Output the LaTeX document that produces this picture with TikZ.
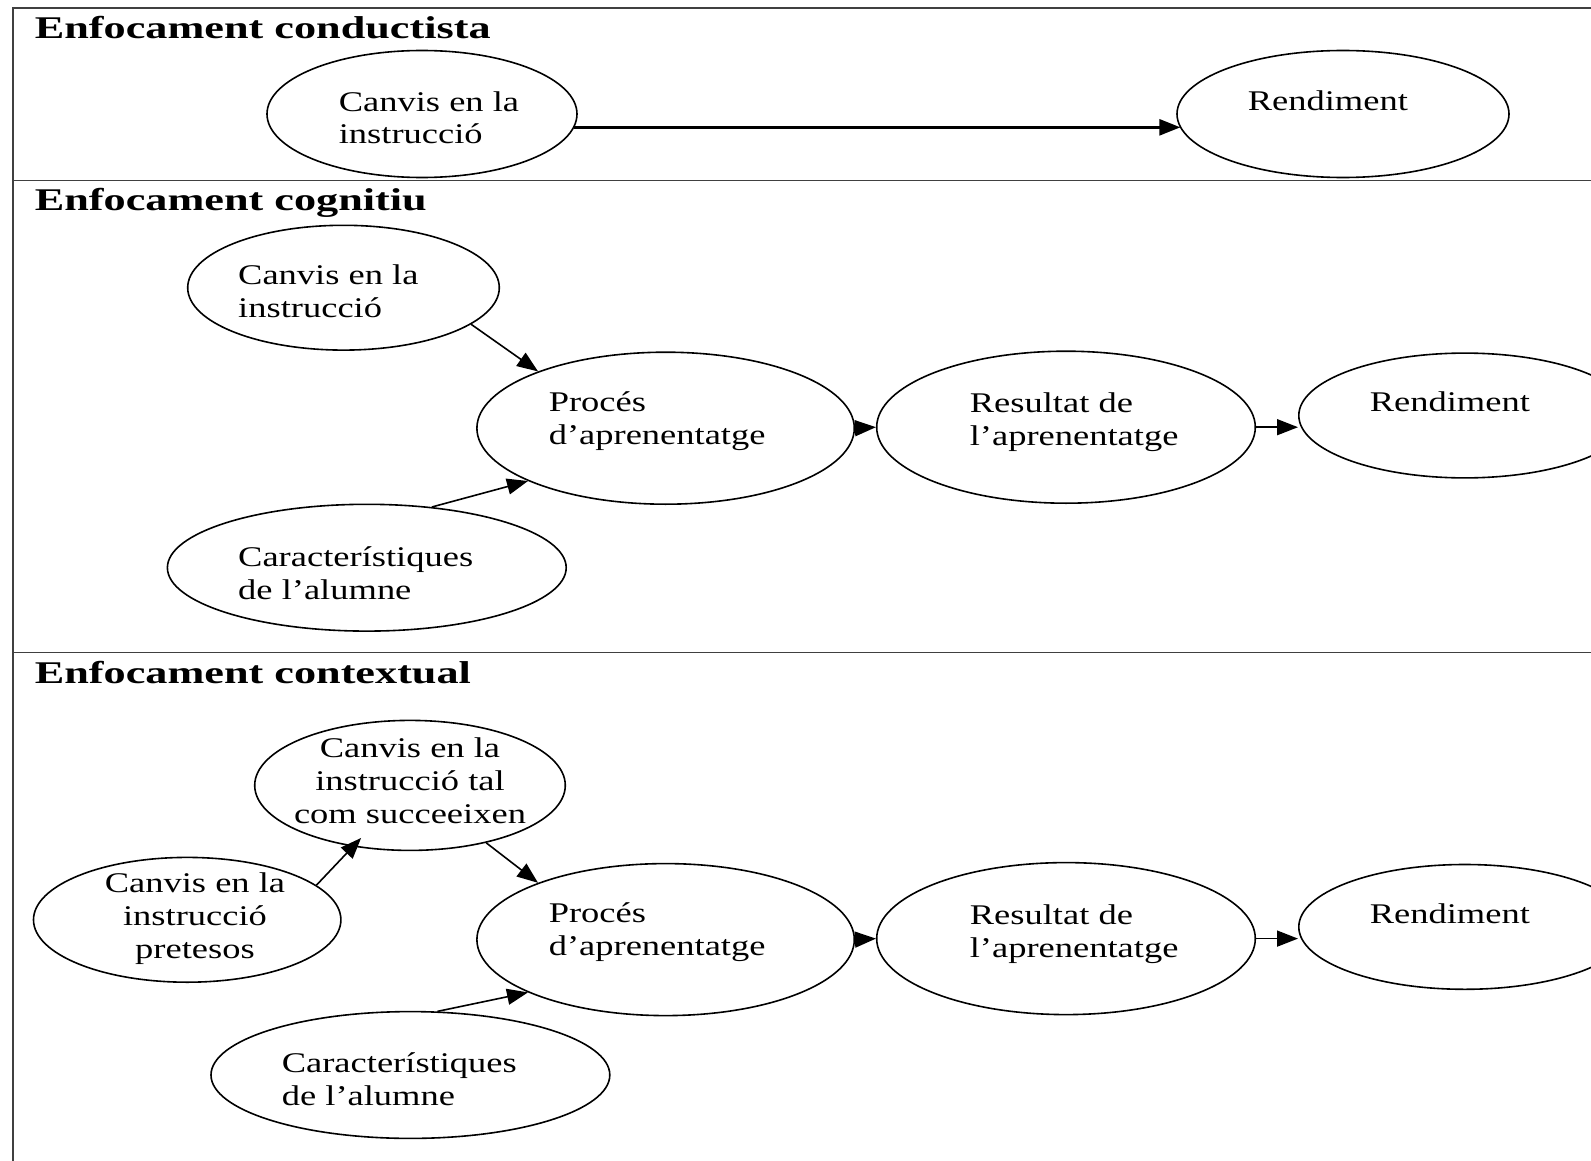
\documentclass[tikz,border=0pt]{standalone}
\usepackage{fontspec}
\newfontfamily\ovalfont{Liberation Serif}[FakeStretch=1.28]
\newfontfamily\headfont{Liberation Serif}[FakeStretch=1.4]
\usetikzlibrary{shapes.geometric,arrows.meta}

\tikzset{every picture/.style={line width=0.8pt}}
\tikzset{
  oval/.style={draw, ellipse, inner sep=0pt},
  ovaltext/.style={font=\ovalfont\fontsize{14.25}{16.5}\selectfont, inner sep=0pt, align=left, anchor=base west},
  ovalmid/.style={ovaltext, align=center, anchor=base},
  headtext/.style={font=\headfont\bfseries\fontsize{15.8}{18}\selectfont, inner sep=0pt, anchor=base west},
  frameline/.style={line width=0.8pt, draw=black!75},
  arr/.style={-{Triangle[length=10.5pt,width=8pt]}},
}

\begin{document}
\begin{tikzpicture}[x=0.5pt,y=0.5pt,yscale=-1,xscale=1]
\useasboundingbox (0,0) rectangle (1591,1161);

%Frame lines
\draw [frameline] (1591,8) -- (13.2,8) -- (13.2,1161) ;
\draw [frameline] (13.2,180.6) -- (1591,180.6) ;
\draw [frameline] (13.2,652.5) -- (1591,652.5) ;

% Text Node
\node [headtext] (headA) at (34,38.3) {Enfocament conductista};
% Text Node
\node [headtext] (headB) at (34,211) {Enfocament cognitiu};
% Text Node
\node [headtext] (headC) at (34,683) {Enfocament contextual};

%Shape: Ellipse
\node [oval, minimum width=155pt, minimum height=63.5pt] (canvisA) at (422,114) {};
\node [oval, minimum width=166pt, minimum height=63.5pt] (rendA) at (1343,114) {};
%Shape: Ellipse
\node [oval, minimum width=155.8pt, minimum height=62.4pt] (canvisB) at (343.5,287.7) {};
\node [oval, minimum width=188.7pt, minimum height=76pt] (procB) at (665.6,428.2) {};
\node [oval, minimum width=189.3pt, minimum height=76pt] (resB) at (1066,427.2) {};
\node [oval, minimum width=166pt, minimum height=62.4pt] (rendB) at (1464.8,415.5) {};
\node [oval, minimum width=199.4pt, minimum height=63.4pt] (caracB) at (366.8,567.7) {};
%Shape: Ellipse
\node [oval, minimum width=155.3pt, minimum height=65pt] (talC) at (410,785.4) {};
\node [oval, minimum width=153.7pt, minimum height=62.4pt] (pretC) at (187.2,919.8) {};
\node [oval, minimum width=188.7pt, minimum height=76pt] (procC) at (665.6,939.6) {};
\node [oval, minimum width=189.3pt, minimum height=76pt] (resC) at (1066,938.6) {};
\node [oval, minimum width=166pt, minimum height=62.4pt] (rendC) at (1464.8,926.9) {};
\node [oval, minimum width=199.4pt, minimum height=63.4pt] (caracC) at (410.4,1075) {};

% Text Node
\node [ovaltext] (canvisAtxt) at (338,144) {Canvis en la\\instrucció};
\node [ovaltext] (rendAtxt) at (1247,110.6) {Rendiment};
% Text Node
\node [ovaltext] (canvisBtxt) at (237.4,317) {Canvis en la\\instrucció};
\node [ovaltext] (procBtxt) at (548,444) {Procés\\d’aprenentatge};
\node [ovaltext] (resBtxt) at (969,445) {Resultat de\\l’aprenentatge};
\node [ovaltext] (rendBtxt) at (1369,411) {Rendiment};
\node [ovaltext] (caracBtxt) at (237.4,599) {Característiques\\de l’alumne};
% Text Node
\node [ovalmid] (talCtxt) at (410,823) {Canvis en la\\instrucció tal\\com succeeixen};
\node [ovalmid] (pretCtxt) at (195,958) {Canvis en la\\instrucció\\pretesos};
\node [ovaltext] (procCtxt) at (548,955) {Procés\\d’aprenentatge};
\node [ovaltext] (resCtxt) at (969,957.4) {Resultat de\\l’aprenentatge};
\node [ovaltext] (rendCtxt) at (1369,923.4) {Rendiment};
\node [ovaltext] (caracCtxt) at (281,1105.5) {Característiques\\de l’alumne};

%Straight Lines
\draw [arr, line width=1.35pt] (canvisA.-5) -- (canvisA.-5 -| rendA.185) ;
%Straight Lines
\draw [arr] (canvisB.-16) -- (procB.156) ;
\draw [arr] (caracB.43) -- (procB.201) ;
\draw [arr] (procB.east) -- (resB.west) ;
\draw [arr] (resB.east) -- (resB.east -| rendB.west) ;
%Straight Lines
\draw [arr, shorten >=-6pt] (pretC.15) -- (talC.227.6) ;
\draw [arr] (talC.-37) -- (procC.156) ;
\draw [arr] (caracC.67) -- (procC.201) ;
\draw [arr] (procC.east) -- (resC.west) ;
\draw [arr] (resC.east) -- (resC.east -| rendC.west) ;

\end{tikzpicture}
\end{document}
